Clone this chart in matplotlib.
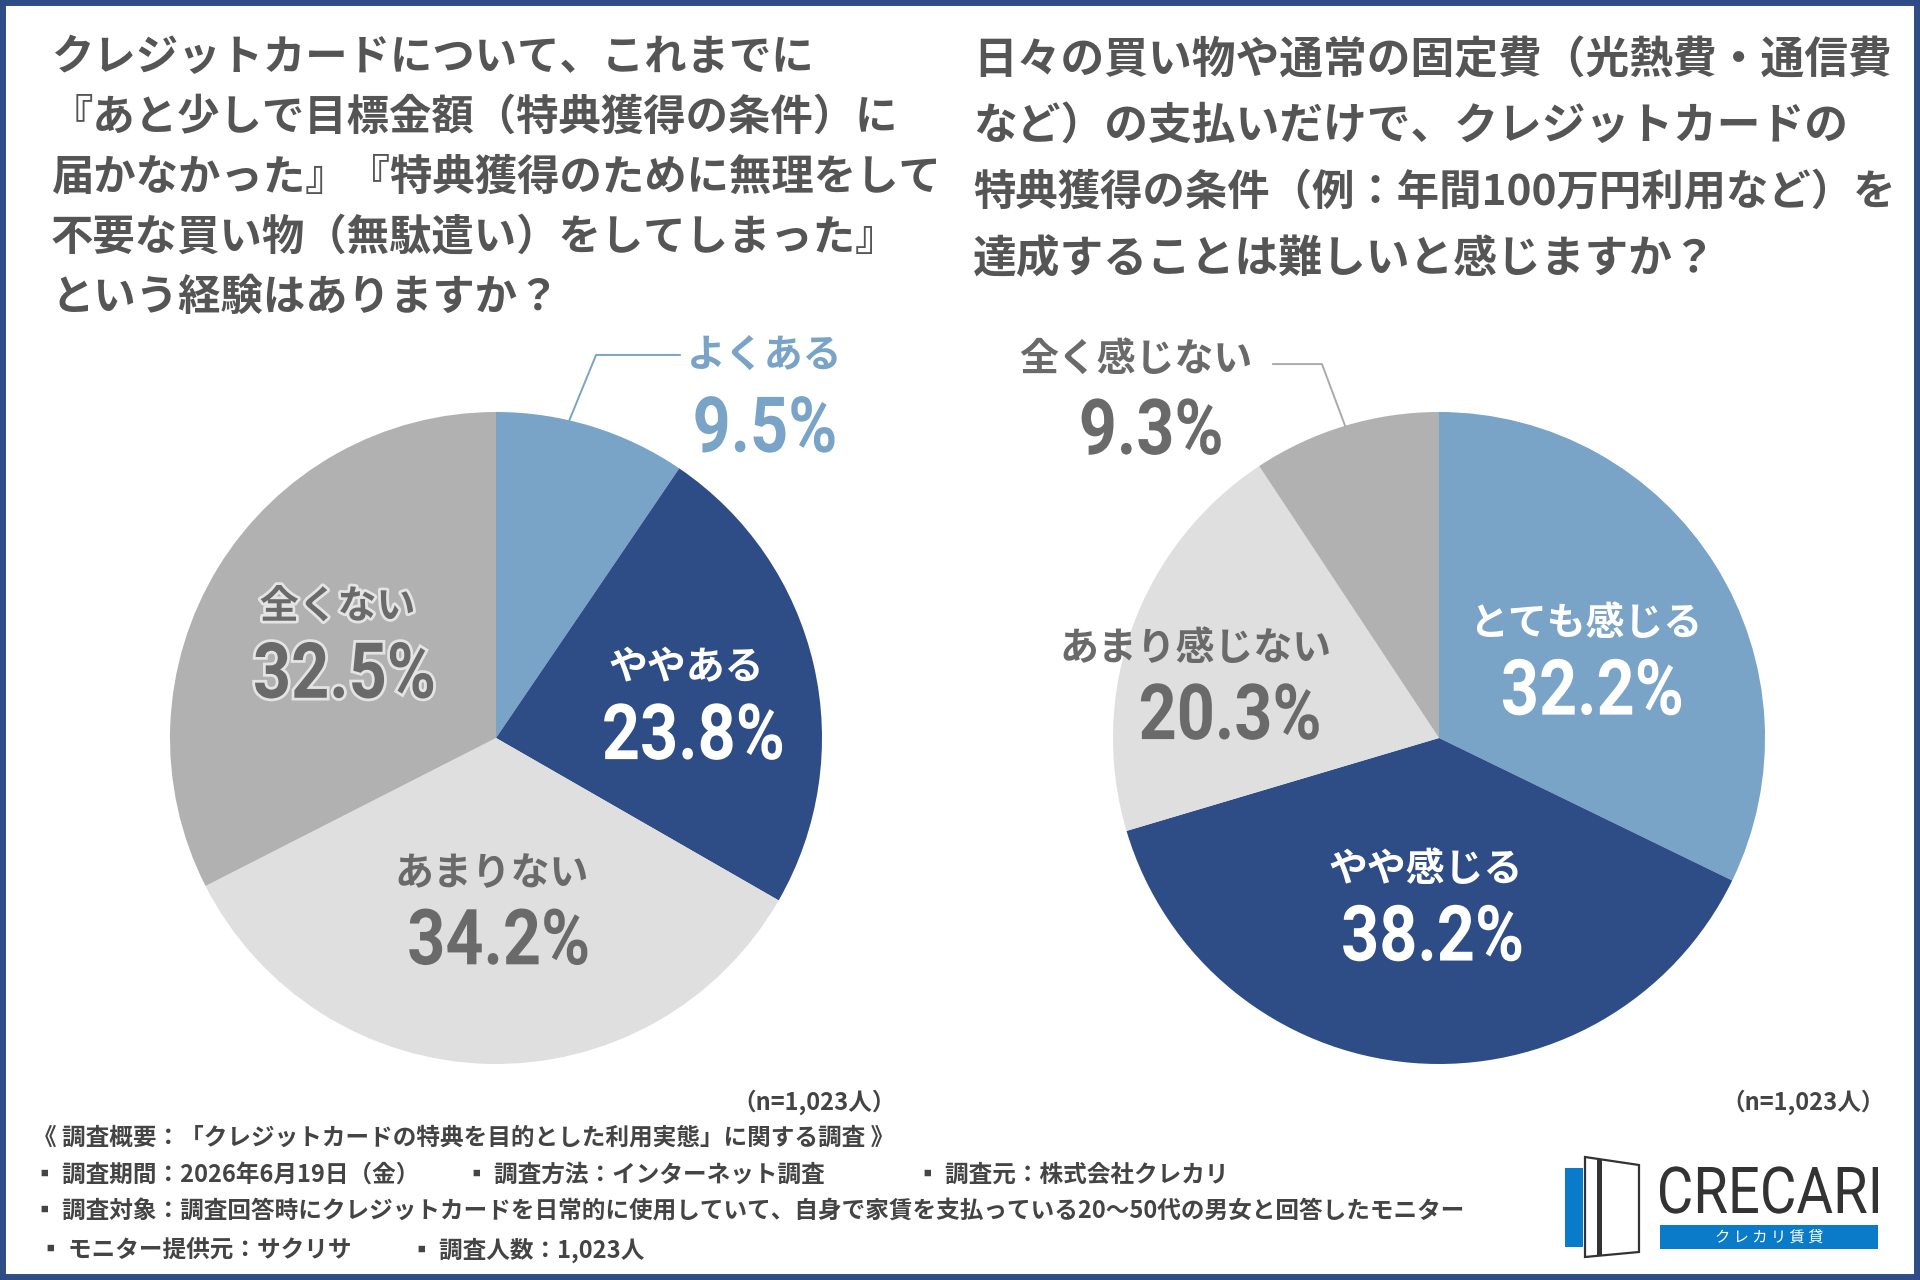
import numpy as np
import matplotlib
matplotlib.use("Agg")
import matplotlib.pyplot as plt
import matplotlib.patches as patches
from matplotlib import patheffects
from matplotlib.textpath import TextPath
from matplotlib.font_manager import FontProperties
from matplotlib.transforms import Affine2D

plt.rcParams['font.family'] = ['Noto Sans CJK JP', 'DejaVu Sans']

# --- データ ---
left_labels = ['よくある', 'ややある', 'あまりない', '全くない']
left_values = [9.5, 23.8, 34.2, 32.5]
right_labels = ['とても感じる', 'やや感じる', 'あまり感じない', '全く感じない']
right_values = [32.2, 38.2, 20.3, 9.3]

left_title = ['クレジットカードについて、これまでに',
              '『あと少しで目標金額（特典獲得の条件）に',
              '届かなかった』『特典獲得のために無理をして',
              '不要な買い物（無駄遣い）をしてしまった』',
              'という経験はありますか？']
right_title = ['日々の買い物や通常の固定費（光熱費・通信費',
               'など）の支払いだけで、クレジットカードの',
               '特典獲得の条件（例：年間100万円利用など）を',
               '達成することは難しいと感じますか？']
n_note = '（n=1,023人）'
footer_head = '《 調査概要：「クレジットカードの特典を目的とした利用実態」に関する調査 》'
footer_row2 = ['▪ 調査期間：2026年6月19日（金）', '▪ 調査方法：インターネット調査', '▪ 調査元：株式会社クレカリ']
footer_row3 = '▪ 調査対象：調査回答時にクレジットカードを日常的に使用していて、自身で家賃を支払っている20～50代の男女と回答したモニター'
footer_row4 = ['▪ モニター提供元：サクリサ', '▪ 調査人数：1,023人']

# --- 色 ---
C_LBLUE = '#79A3C7'
C_NAVY = '#2E4D86'
C_LGRAY = '#DFDFDF'
C_GRAY = '#B1B1B1'
C_TXT = '#6A6A6A'
C_TITLE = '#555555'
pie_colors = [C_LBLUE, C_NAVY, C_LGRAY, C_GRAY]

W, H = 1920, 1280
R = 326
fig = plt.figure(figsize=(W / 100, H / 100), dpi=100, facecolor='white')


def pixel_axes():
    a = fig.add_axes([0, 0, 1, 1])
    a.set_xlim(0, W)
    a.set_ylim(H, 0)
    a.axis('off')
    return a


def path_text(ax, x, y, s, color, cap, sx=0.86, width=None, weight='bold',
              family='Roboto', pe=None):
    # 数字用の細長いフォントが無いので TextPath を横に縮めて描く
    fp = FontProperties(family=family, weight=weight)
    tp = TextPath((0, 0), s, size=cap / 0.711, prop=fp)
    ext = tp.get_extents()
    if width is not None:
        sx = width / ext.width
    tr = (Affine2D().translate(-ext.x0 - ext.width / 2, -cap / 2)
          .scale(sx, -1).translate(x, y))
    ax.add_patch(patches.PathPatch(tr.transform_path(tp), facecolor=color,
                                   edgecolor='none', lw=0, path_effects=pe, zorder=5))


bg = pixel_axes()

# 枠線
fig.patches.append(patches.Rectangle((0, 0), 1, 1, transform=fig.transFigure,
                                     fill=False, edgecolor=C_NAVY, lw=8.6))

# タイトル
for i, line in enumerate(left_title):
    bg.text(51, 58 + i * 60, line, fontsize=30.5, fontweight='bold',
            color=C_TITLE, ha='left', va='center')
for i, line in enumerate(right_title):
    fs = 30.5 if '100' in line else 31.5
    bg.text(973, 60 + i * 66.5, line, fontsize=fs, fontweight='bold',
            color=C_TITLE, ha='left', va='center')

# 注記・フッター
FT = dict(fontsize=17, fontweight='bold', color='#444444', va='center')
bg.text(896, 1102, n_note, ha='right', **FT)
bg.text(1885, 1102, n_note, ha='right', **FT)
bg.text(33, 1138, footer_head, ha='left', **FT)
for x, t in zip([33, 465, 916], footer_row2):
    bg.text(x, 1175, t, ha='left', **FT)
bg.text(33, 1212, footer_row3, ha='left', **FT)
for x, t in zip([39, 410], footer_row4):
    bg.text(x, 1250, t, ha='left', **FT)

# ロゴ
LOGO_BLUE = '#0A7BC8'
bg.add_patch(patches.Rectangle((1565, 1168), 18, 79, color=LOGO_BLUE, lw=0))
bg.add_patch(patches.Polygon([(1585, 1157), (1639, 1165), (1639, 1252), (1585, 1257)],
                             closed=True, facecolor='white', edgecolor='#333333', lw=1.6))
bg.add_patch(patches.Rectangle((1597, 1160), 5, 96, color='#333333', lw=0))
path_text(bg, 1769, 1190, 'CRECARI', '#333333', cap=46, width=218, weight='normal')
bg.add_patch(patches.Rectangle((1660, 1225), 218, 24, color=LOGO_BLUE, lw=0))
bg.text(1769, 1237, 'ク レ カ リ 賃 貸', fontsize=11, color='white', ha='center', va='center')


def draw_pie(cx, cy, values):
    axp = fig.add_axes([(cx - R) / W, (H - cy - R) / H, 2 * R / W, 2 * R / H])
    wedges, _ = axp.pie(values, colors=pie_colors, startangle=90,
                        counterclock=False, radius=1,
                        wedgeprops=dict(linewidth=0))
    axp.set_xlim(-1, 1)
    axp.set_ylim(-1, 1)
    axp.axis('off')
    return wedges


def draw_labels(ax, cx, cy, wedges, labels, values, styles):
    def px(u, v):
        return cx + u * R, cy - v * R
    for w, lab, val, st in zip(wedges, labels, values, styles):
        mid = np.deg2rad((w.theta1 + w.theta2) / 2)
        if 'leader' in st:
            ang = np.deg2rad(w.theta2 - st['frac'] * (w.theta2 - w.theta1))
            pts = [px(np.cos(ang), np.sin(ang))] + [px(*p) for p in st['leader']]
            ax.plot([p[0] for p in pts], [p[1] for p in pts], color=st['line'],
                    lw=1.4, zorder=4)
            t1 = px(*st['text'])
            t2 = px(*st['pct'])
        else:
            d = st['dist']
            gu = d * np.cos(mid) + st.get('dx', 0)
            gv = d * np.sin(mid) + st.get('dy', 0)
            t1 = px(gu, gv + 0.105)
            t2 = px(gu + st.get('pdx', 0.02), gv - 0.09)
        pe = st.get('pe')
        ax.text(t1[0], t1[1], lab, fontsize=28, fontweight='bold', color=st['color'],
                ha='center', va='center', path_effects=pe, zorder=6)
        path_text(ax, t2[0], t2[1], f'{val}%', st['color'], cap=55, pe=pe)


stroke = [patheffects.withStroke(linewidth=4, foreground='#E4E4E4')]
left_styles = [
    dict(leader=[(0.307, 1.175), (0.564, 1.175)], frac=0.38, text=(0.825, 1.175),
         pct=(0.825, 0.962), line=C_LBLUE, color=C_LBLUE),
    dict(dist=0.60, dy=-0.025, color='white'),
    dict(dist=0.51, dy=-0.01, color=C_TXT),
    dict(dist=0.57, color=C_TXT, pe=stroke),
]
right_styles = [
    dict(dist=0.53, dy=-0.035, color='white'),
    dict(dist=0.50, dy=-0.01, color='white'),
    dict(dist=0.72, dx=-0.07, dy=-0.075, pdx=0.105, color=C_TXT),
    dict(leader=[(-0.359, 1.147), (-0.509, 1.147)], frac=0.5, text=(-0.929, 1.163),
         pct=(-0.883, 0.955), line='#AAAAAA', color=C_TXT),
]
lw_ = draw_pie(496, 738, left_values)
rw_ = draw_pie(1439, 738, right_values)

top = pixel_axes()
draw_labels(top, 496, 738, lw_, left_labels, left_values, left_styles)
draw_labels(top, 1439, 738, rw_, right_labels, right_values, right_styles)

fig.savefig('out.png', dpi=100, facecolor='white')
